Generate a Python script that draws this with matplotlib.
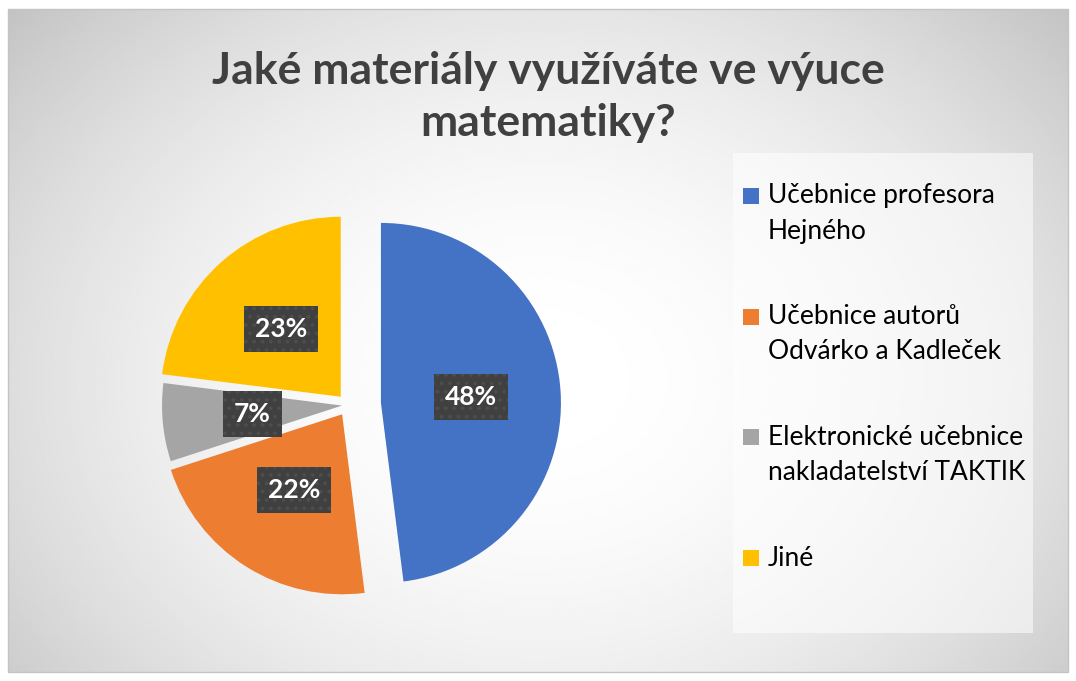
import matplotlib.pyplot as plt
import numpy as np
from matplotlib.patches import Rectangle

categories = ["Učebnice profesora\nHejného",
              "Učebnice autorů\nOdvárko a Kadleček",
              "Elektronické učebnice\nnakladatelství TAKTIK",
              "Jiné"]
values = [48, 22, 7, 23]
colors = ["#4472C4", "#ED7D31", "#A5A5A5", "#FFC000"]
title = "Jaké materiály využíváte ve výuce\nmatematiky?"

W, H = 1076, 681
plt.rcParams['font.family'] = ['Lato', 'DejaVu Sans']
plt.rcParams['hatch.linewidth'] = 1.5

fig = plt.figure(figsize=(W / 100, H / 100), dpi=100)
ax = fig.add_axes([0, 0, 1, 1])

# radial gradient background inside the chart frame
x0, x1, y0, y1 = 8, 1068, 9, 672
gx, gy = np.meshgrid(np.linspace(x0, x1, 400), np.linspace(y0, y1, 250))
d2 = ((gx - 540) / 600) ** 2 + ((gy - 380) / 480) ** 2
shade = np.clip(1.0 - 0.17 * d2, 0.74, 1.0)
ax.imshow(shade, cmap='gray', vmin=0, vmax=1, extent=(x0, x1, H - y1, H - y0),
          origin='upper', zorder=0, interpolation='bilinear')
ax.add_patch(Rectangle((x0, H - y1), x1 - x0, y1 - y0, fill=False,
                       edgecolor='#c4c4c4', lw=1, zorder=1))

# pie
wedges, texts, autotexts = ax.pie(
    values, colors=colors, startangle=90, counterclock=False,
    radius=180, center=(348, H - 405), explode=[33, 11, 6, 11],
    autopct='%1.0f%%', pctdistance=0.5,
    wedgeprops=dict(linewidth=0),
    textprops=dict(color='white', fontsize=19, fontweight='bold'))
for t in autotexts:
    t.set_bbox(dict(boxstyle='square,pad=0.42', facecolor='#404040',
                    edgecolor='#4d4d4d', linewidth=0, hatch='..'))

ax.set_xlim(0, W)
ax.set_ylim(0, H)
ax.set_aspect('equal')
ax.axis('off')

# title
ax.text(548, H - 97, title, ha='center', va='center', fontsize=32,
        fontweight='bold', color='#404040', linespacing=1.38)

# legend
ax.add_patch(Rectangle((733, H - 633), 300, 480, facecolor='white',
                       alpha=0.55, linewidth=0, zorder=1))
for i, (lab, c) in enumerate(zip(categories, colors)):
    yc = 196 + i * 120.7
    ax.add_patch(Rectangle((743, H - yc - 8), 16, 16, facecolor=c,
                           linewidth=0, zorder=2))
    for j, line in enumerate(lab.split('\n')):
        ax.text(768, H - yc - j * 35, line, ha='left', va='center',
                fontsize=19, color='#000000', zorder=3)

fig.savefig('out.png', dpi=100)
